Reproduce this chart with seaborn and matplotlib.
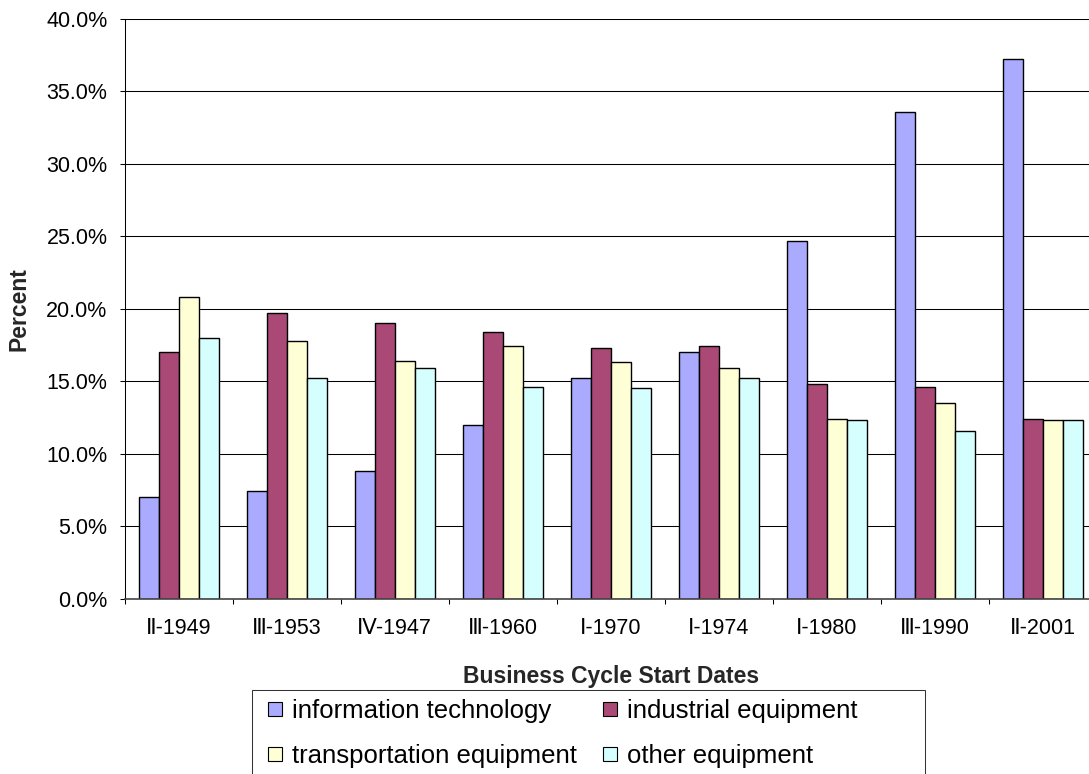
import matplotlib
matplotlib.use("Agg")
import matplotlib.pyplot as plt
from matplotlib.lines import Line2D
from matplotlib.patches import Rectangle
from matplotlib.ticker import PercentFormatter
import numpy as np
import pandas as pd
import seaborn as sns

# Business cycle start dates and investment shares (percent) by equipment type
cycles = ["Ⅱ-1949", "Ⅲ-1953", "Ⅳ-1947", "Ⅲ-1960", "Ⅰ-1970",
          "Ⅰ-1974", "Ⅰ-1980", "Ⅲ-1990", "Ⅱ-2001"]
sectors = ["information technology", "industrial equipment",
           "transportation equipment", "other equipment"]
info_tech = [7.0, 7.4, 8.8, 12.0, 15.2, 17.0, 24.7, 33.6, 37.2]
industrial = [17.0, 19.7, 19.0, 18.4, 17.3, 17.4, 14.8, 14.6, 12.4]
transportation = [20.8, 17.8, 16.4, 17.4, 16.3, 15.9, 12.4, 13.5, 12.3]
other = [18.0, 15.2, 15.9, 14.6, 14.5, 15.2, 12.3, 11.6, 12.3]
colors = ["#AAAAFF", "#AA4876", "#FFFFD5", "#D5FFFF"]
y_ticks = [0, 5, 10, 15, 20, 25, 30, 35, 40]

df = pd.DataFrame({
    "cycle": cycles * 4,
    "sector": [s for s in sectors for _ in cycles],
    "share": info_tech + industrial + transportation + other,
})

sns.set_theme(style="white")
plt.rcParams["font.family"] = ["Liberation Sans", "DejaVu Sans"]
plt.rcParams["text.color"] = "black"
plt.rcParams["xtick.color"] = "black"
plt.rcParams["ytick.color"] = "black"

W, H = 1089, 774
fig = plt.figure(figsize=(W / 100, H / 100), dpi=100)
fig.patch.set_facecolor("white")

# plot area in pixel terms: x from 124.7 (108 px per category), y 0%..40% -> 598.7..18.7
x0, x1 = 124.7, 124.7 + 108 * 9
y_bot, y_top = 598.7, 18.7
ax = fig.add_axes([x0 / W, (H - y_bot) / H, (x1 - x0) / W, (y_bot - y_top) / H])
ax.set_facecolor("white")

sns.barplot(data=df, x="cycle", y="share", hue="sector", order=cycles,
            hue_order=sectors, palette=colors, width=0.74, saturation=1,
            edgecolor="black", linewidth=1.0, errorbar=None, legend=False, ax=ax)

ax.set_xlim(-0.5, 8.5)
ax.set_ylim(0, 40)
ax.set_yticks(y_ticks)
ax.yaxis.set_major_formatter(PercentFormatter(xmax=100, decimals=1))
ax.yaxis.grid(True, color="black", linewidth=0.75)
ax.xaxis.grid(False)
ax.set_axisbelow(True)

for side in ("top", "right"):
    ax.spines[side].set_visible(False)
ax.spines["left"].set_color("black")
ax.spines["left"].set_linewidth(0.75)
ax.spines["bottom"].set_color("#444444")
ax.spines["bottom"].set_linewidth(1.2)

ax.tick_params(axis="y", which="major", direction="out", length=3.8, width=0.75,
               pad=8.6, labelsize=15.5, left=True)
ax.set_xticks(np.arange(-0.5, 9, 1), minor=True)
ax.tick_params(axis="x", which="major", length=0, pad=14, labelsize=15.5)
ax.tick_params(axis="x", which="minor", direction="out", length=3.8, width=0.75,
               bottom=True)

ax.set_xlabel("Business Cycle Start Dates", fontsize=16.5, fontweight="bold")
ax.xaxis.set_label_coords(0.5, (y_bot - 665) / (y_bot - y_top))
ax.set_ylabel("Percent", fontsize=16.5, fontweight="bold")
ax.yaxis.set_label_coords((30 - x0) / (x1 - x0), 0.5)

# legend: two columns, square swatches, frame open at the bottom edge
order = [0, 2, 1, 3]
handles = [Line2D([], [], linestyle="none", marker="s", markersize=10,
                  markerfacecolor=colors[i], markeredgecolor="black",
                  markeredgewidth=0.8) for i in order]
labels = [sectors[i] for i in order]
fig.legend(handles, labels, loc="upper left",
           bbox_to_anchor=(268 / W, 1 - 699 / H), ncol=2, frameon=False,
           fontsize=18.5, handlelength=0.55, handletextpad=0.4,
           columnspacing=1.0, labelspacing=0.8, borderpad=0, borderaxespad=0)
fig.add_artist(Rectangle((251.7 / W, -0.05), (925 - 251.7) / W, 1 - 690 / H + 0.05,
                         transform=fig.transFigure, fill=False,
                         edgecolor="#333333", linewidth=0.75))

fig.savefig("out.png", dpi=100, facecolor="white")
